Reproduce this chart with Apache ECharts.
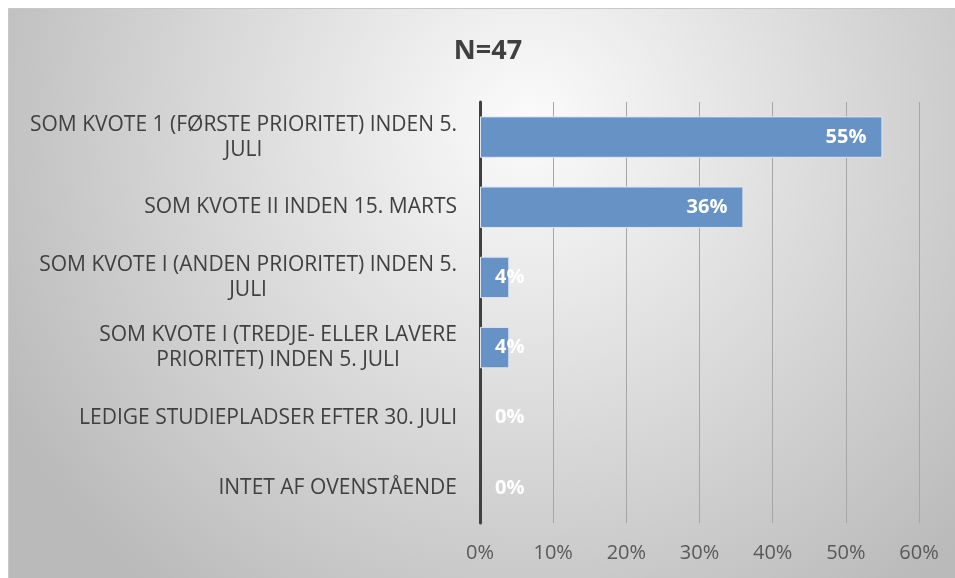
<!DOCTYPE html>
<html>
<head>
<meta charset="utf-8">
<script src="https://cdn.jsdelivr.net/npm/echarts@6/dist/echarts.min.js"></script>
<style>
  html, body { margin: 0; padding: 0; background: #fff; }
  #chart {
    position: absolute; left: 8px; top: 8px;
    width: 947px; height: 570px;
    border-top: 1px solid #c8c8c8; border-left: 1px solid #c8c8c8;
    box-sizing: border-box;
  }
</style>
</head>
<body>
<div id="chart"></div>
<script>
// data
var categories = [
  'SOM KVOTE 1 (FØRSTE PRIORITET) INDEN 5.\nJULI',
  'SOM KVOTE II INDEN 15. MARTS',
  'SOM KVOTE I (ANDEN PRIORITET) INDEN 5.\nJULI',
  'SOM KVOTE I (TREDJE- ELLER LAVERE\nPRIORITET) INDEN 5. JULI',
  'LEDIGE STUDIEPLADSER EFTER 30. JULI',
  'INTET AF OVENSTÅENDE'
];
var values = [55, 36, 4, 4, 0, 0];
var titleText = 'N=47';

var font = '"Open Sans", "Noto Sans", sans-serif';

var seriesData = values.map(function (v) {
  // small bars: Excel pushes the label just past the axis
  var small = v < 8;
  return {
    value: v,
    itemStyle: v === 0 ? { borderWidth: 0 } : {},
    label: small
      ? { position: 'insideLeft', distance: 15 }
      : { position: 'insideRight', distance: 16 }
  };
});

var myChart = echarts.init(document.getElementById('chart'));
var option = {
  backgroundColor: {
    type: 'radial', x: 0.55, y: 0.2, r: 1.05,
    colorStops: [
      { offset: 0, color: '#fbfbfb' },
      { offset: 1, color: '#bababa' }
    ]
  },
  animation: false,
  title: {
    text: titleText,
    left: 474, top: 24,
    textAlign: 'center',
    textStyle: { fontFamily: font, fontSize: 27, fontWeight: 'bold', color: '#404040' }
  },
  grid: { left: 471, right: 36, top: 93, bottom: 55 },
  xAxis: {
    type: 'value',
    min: 0, max: 60, interval: 10,
    axisLine: { show: false },
    axisTick: { show: false },
    splitLine: { lineStyle: { color: '#a6a6a6', width: 1 } },
    axisLabel: {
      margin: 20,
      formatter: '{value}%',
      fontFamily: font, fontSize: 20, color: '#595959'
    }
  },
  yAxis: {
    type: 'category',
    inverse: true,
    data: categories,
    axisTick: { show: false },
    axisLine: { lineStyle: { color: '#404040', width: 3 } },
    axisLabel: {
      margin: 23,
      fontFamily: font, fontSize: 21, color: '#404040',
      lineHeight: 25,
      formatter: function (val) {
        return val.split('\n').map(function (s) { return '{c|' + s + '}'; }).join('\n');
      },
      rich: {
        c: { align: 'center', fontFamily: font, fontSize: 21, color: '#404040', lineHeight: 25 }
      }
    }
  },
  series: [{
    type: 'bar',
    data: seriesData,
    barCategoryGap: '41%',
    itemStyle: { color: '#6792c5', borderColor: '#dde6f1', borderWidth: 1 },
    label: {
      show: true,
      formatter: '{c}%',
      color: '#ffffff',
      fontFamily: font, fontSize: 20, fontWeight: 'bold'
    }
  }]
};
myChart.setOption(option, true);
</script>
</body>
</html>
